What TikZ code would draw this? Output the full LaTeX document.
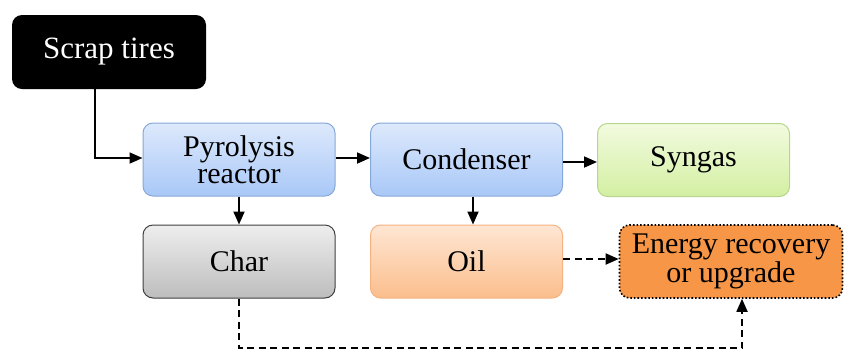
\documentclass[tikz,border=0pt]{standalone}
\usepackage{fontspec}
\setmainfont{Liberation Serif}
\usetikzlibrary{arrows.meta}
\definecolor{blueT}{HTML}{DDE9FC}
\definecolor{blueB}{HTML}{A9C8F7}
\definecolor{blueL}{HTML}{86A8D8}
\definecolor{grayT}{HTML}{EEEEEE}
\definecolor{grayB}{HTML}{BDBDBD}
\definecolor{grayL}{HTML}{404040}
\definecolor{orT}{HTML}{FEE6D3}
\definecolor{orB}{HTML}{FBBE8C}
\definecolor{orL}{HTML}{F5B381}
\definecolor{grT}{HTML}{F2FBDF}
\definecolor{grB}{HTML}{D3EFA2}
\definecolor{grL}{HTML}{B5D68C}
\definecolor{enF}{HTML}{F79646}
\tikzset{
  box/.style={rounded corners=10pt, minimum width=192pt, minimum height=73pt,
    align=center, font=\fontsize{30}{27}\selectfont, inner sep=0pt},
  bluebox/.style={box, top color=blueT, bottom color=blueB, draw=blueL, line width=1pt},
  graybox/.style={box, top color=grayT, bottom color=grayB, draw=grayL, line width=1pt},
  oilbox/.style={box, top color=orT, bottom color=orB, draw=orL, line width=1pt},
  gasbox/.style={box, top color=grT, bottom color=grB, draw=grL, line width=1pt},
  flow/.style={line width=1.8pt, -{Triangle[length=13pt,width=11pt]}},
  dflow/.style={flow, dash pattern=on 7pt off 4.5pt},
}
\begin{document}
\begin{tikzpicture}[x=1pt,y=-1pt]
\useasboundingbox (0,0) rectangle (845,349);
\node[box, fill=black, text=white, minimum width=194pt, minimum height=74pt,
  font=\fontsize{31}{28}\selectfont] (scrap) at (109,52) {Scrap tires};
\node[bluebox] (pyro) at (239,159.5) {Pyrolysis\\reactor};
\node[bluebox] (cond) at (466.5,159.5) {Condenser};
\node[gasbox] (gas) at (693.5,160) {Syngas};
\node[graybox] (char) at (239,261.5) {Char};
\node[oilbox] (oil) at (466.5,261.5) {Oil};
\node[box, fill=enF, draw=black, line width=1.6pt, dotted, minimum width=223pt,
  minimum height=73pt] (energy) at (731,261.5) {Energy recovery\\or upgrade};
\coordinate (c1) at (95,158);
\coordinate (c2) at (239,348);
\coordinate (c3) at (742,348);
\draw[flow] (scrap.south -| c1) -- (c1) -- (c1 -| pyro.west);
\draw[flow] (pyro.east |- 0,158) -- (cond.west |- 0,158);
\draw[flow] (cond.east |- 0,162) -- (gas.west |- 0,162);
\draw[flow] (pyro.south) -- (char.north);
\draw[flow] ([xshift=6.5pt]cond.south) -- ([xshift=6.5pt]oil.north);
\draw[dflow] (oil.east |- 0,259) -- (energy.west |- 0,259);
\draw[dflow] (char.south) -- (c2) -- (c3) -- (c3 |- energy.south);
\end{tikzpicture}
\end{document}
